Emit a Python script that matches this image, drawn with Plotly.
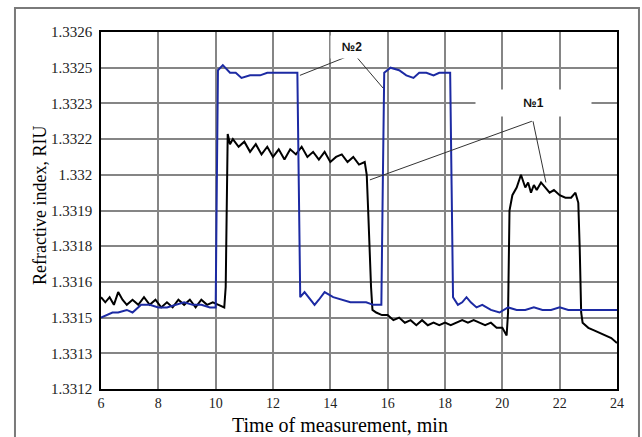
import plotly.graph_objects as go

# ---- data ----
t_no1 = [6.0, 6.15, 6.3, 6.45, 6.6, 6.75, 6.9, 7.1, 7.3, 7.5, 7.7, 7.9, 8.1, 8.3, 8.5, 8.7, 8.9, 9.1, 9.3,
         9.5, 9.7, 9.9, 10.1, 10.3, 10.35, 10.38, 10.42, 10.5, 10.6, 10.8, 11.0, 11.2, 11.4, 11.6, 11.8,
         12.0, 12.2, 12.4, 12.6, 12.8, 13.0, 13.2, 13.4, 13.6, 13.8, 14.0, 14.2, 14.4, 14.6, 14.8, 15.0,
         15.2, 15.27, 15.32, 15.37, 15.42, 15.47, 15.6, 15.8, 16.0, 16.2, 16.4, 16.6, 16.8, 17.0, 17.2,
         17.4, 17.6, 17.8, 18.0, 18.2, 18.4, 18.6, 18.8, 19.0, 19.2, 19.4, 19.6, 19.8, 20.0, 20.15, 20.2,
         20.25, 20.35, 20.5, 20.65, 20.8, 20.9, 21.0, 21.1, 21.2, 21.35, 21.5, 21.65, 21.8, 22.0, 22.2,
         22.4, 22.55, 22.65, 22.7, 22.75, 22.8, 23.0, 23.2, 23.4, 23.6, 23.8, 24.0]
v_no1 = [1.33156, 1.33154, 1.33156, 1.33153, 1.33158, 1.33155, 1.33153, 1.33155, 1.33153, 1.33156,
         1.33153, 1.33155, 1.33152, 1.33154, 1.33152, 1.33155, 1.33153, 1.33155, 1.33152, 1.33155,
         1.33153, 1.33154, 1.33153, 1.33152, 1.33160, 1.33195, 1.33220, 1.33216, 1.33218, 1.33215,
         1.33217, 1.33213, 1.33216, 1.33212, 1.33215, 1.33211, 1.33214, 1.33210, 1.33214, 1.33212,
         1.33215, 1.33211, 1.33213, 1.33210, 1.33213, 1.33209, 1.33211, 1.33212, 1.33209, 1.33211,
         1.33208, 1.33209, 1.33204, 1.33190, 1.33172, 1.33160, 1.33151, 1.33150, 1.33149, 1.33149,
         1.33147, 1.33148, 1.33146, 1.33147, 1.33145, 1.33147, 1.33145, 1.33146, 1.33145, 1.33146,
         1.33145, 1.33146, 1.33147, 1.33146, 1.33147, 1.33146, 1.33145, 1.33146, 1.33144, 1.33144,
         1.33141, 1.33150, 1.33190, 1.33196, 1.33199, 1.33204, 1.33199, 1.33201, 1.33197, 1.33200,
         1.33198, 1.33201, 1.33199, 1.33197, 1.33198, 1.33196, 1.33195, 1.33195, 1.33197, 1.33193,
         1.33175, 1.33150, 1.33146, 1.33144, 1.33143, 1.33142, 1.33141, 1.33140, 1.33138]

t_no2 = [6.0, 6.2, 6.4, 6.6, 6.9, 7.1, 7.4, 7.7, 8.0, 8.3, 8.6, 8.9, 9.2, 9.5, 9.8, 10.0, 10.04, 10.08,
         10.25, 10.5, 10.7, 10.9, 11.2, 11.55, 11.8, 12.1, 12.5, 12.85, 12.9, 12.95, 13.1, 13.3, 13.45,
         13.6, 13.8, 14.1, 14.4, 14.7, 15.0, 15.25, 15.5, 15.78, 15.83, 15.88, 16.1, 16.4, 16.65, 16.9,
         17.1, 17.35, 17.6, 17.8, 18.0, 18.18, 18.23, 18.28, 18.45, 18.6, 18.75, 18.9, 19.1, 19.3, 19.6,
         19.9, 20.2, 20.5, 20.8, 21.1, 21.4, 21.7, 22.0, 22.3, 22.6, 22.9, 23.2, 23.5, 23.8, 24.0]
v_no2 = [1.33148, 1.33149, 1.33150, 1.33150, 1.33151, 1.33150, 1.33153, 1.33153, 1.33152, 1.33152,
         1.33153, 1.33154, 1.33153, 1.33153, 1.33152, 1.33152, 1.33200, 1.33245, 1.33247, 1.33244,
         1.33244, 1.33242, 1.33243, 1.33243, 1.33244, 1.33244, 1.33244, 1.33244, 1.33200, 1.33156,
         1.33158, 1.33155, 1.33153, 1.33155, 1.33158, 1.33156, 1.33155, 1.33154, 1.33154, 1.33154,
         1.33153, 1.33153, 1.33200, 1.33244, 1.33246, 1.33245, 1.33243, 1.33242, 1.33244, 1.33244,
         1.33243, 1.33244, 1.33244, 1.33244, 1.33200, 1.33156, 1.33153, 1.33154, 1.33156, 1.33154,
         1.33152, 1.33153, 1.33151, 1.33150, 1.33152, 1.33151, 1.33151, 1.33152, 1.33151, 1.33151,
         1.33152, 1.33151, 1.33151, 1.33151, 1.33151, 1.33151, 1.33151, 1.33151]

x_ticks = [6, 8, 10, 12, 14, 16, 18, 20, 22, 24]
y_ticks = [1.3312, 1.33134, 1.33148, 1.33162, 1.33176, 1.3319, 1.33204, 1.33218, 1.33232, 1.33246, 1.3326]
y_tick_labels = ["1.3312", "1.3313", "1.3315", "1.3316", "1.3318", "1.3319", "1.332", "1.3322",
                 "1.3323", "1.3325", "1.3326"]

# leader lines (data coords): (x0, y0, x1, y1)
leaders_no2 = [(14.51, 1.33250, 12.94, 1.33243), (14.93, 1.33250, 15.84, 1.33238)]
leaders_no1 = [(21.03, 1.33225, 15.38, 1.33202), (21.07, 1.33225, 21.52, 1.33201)]
label_no2 = (14.76, 1.33254)
label_no1 = (21.07, 1.33232)

fig = go.Figure()
fig.add_trace(go.Scatter(x=t_no1, y=v_no1, mode="lines", line=dict(color="#000000", width=2), name="№1"))
fig.add_trace(go.Scatter(x=t_no2, y=v_no2, mode="lines", line=dict(color="#1c2aa3", width=2), name="№2"))

serif = "Liberation Serif, Times New Roman, serif"
shapes = []
for (x0, y0, x1, y1) in leaders_no2 + leaders_no1:
    shapes.append(dict(type="line", xref="x", yref="y", x0=x0, y0=y0, x1=x1, y1=y1,
                       line=dict(color="#333333", width=1)))
# outer frame
shapes.append(dict(type="rect", xref="paper", yref="paper", x0=-0.1667, x1=1.0426, y0=-0.2, y1=1.0672,
                   line=dict(color="#7a7a7a", width=2), layer="below"))

annotations = [
    dict(x=label_no2[0], y=label_no2[1], xref="x", yref="y", text="<b>№2</b>", showarrow=False,
         font=dict(family="Liberation Sans, Arial", size=12, color="#111"),
         bgcolor="white", width=40, height=20),
    dict(x=label_no1[0], y=label_no1[1], xref="x", yref="y", text="<b>№1</b>", showarrow=False,
         font=dict(family="Liberation Sans, Arial", size=12, color="#111"),
         bgcolor="white", width=113, height=24),
    dict(x=(340 - 101) / 516, y=(389 - 425) / 357, xref="paper", yref="paper",
         xanchor="center", yanchor="middle",
         text="Time of measurement, min", showarrow=False, font=dict(family=serif, size=20, color="#000")),
    dict(x=(40 - 101) / 516, y=(389 - 206) / 357, xref="paper", yref="paper", textangle=-90,
         xanchor="center", yanchor="middle",
         text="Refractive index, RIU", showarrow=False, font=dict(family=serif, size=18, color="#000")),
]

fig.update_layout(
    width=642, height=437,
    margin=dict(l=101, r=25, t=32, b=48),
    paper_bgcolor="white", plot_bgcolor="white",
    showlegend=False,
    shapes=shapes, annotations=annotations,
    xaxis=dict(range=[6, 24], tickvals=x_ticks, ticktext=[str(v) for v in x_ticks],
               showgrid=True, gridcolor="#858585", gridwidth=1.5, zeroline=False,
               showline=True, linecolor="#000", linewidth=1.5, mirror=True,
               ticks="", ticklabelstandoff=0, tickfont=dict(family=serif, size=14, color="#222")),
    yaxis=dict(range=[1.3312, 1.3326], tickvals=y_ticks, ticktext=y_tick_labels,
               showgrid=True, gridcolor="#858585", gridwidth=1.5, zeroline=False,
               showline=True, linecolor="#000", linewidth=1.5, mirror=True,
               ticks="", ticklabelstandoff=4, tickfont=dict(family=serif, size=15, color="#222")),
)

fig.write_html("out.html")
